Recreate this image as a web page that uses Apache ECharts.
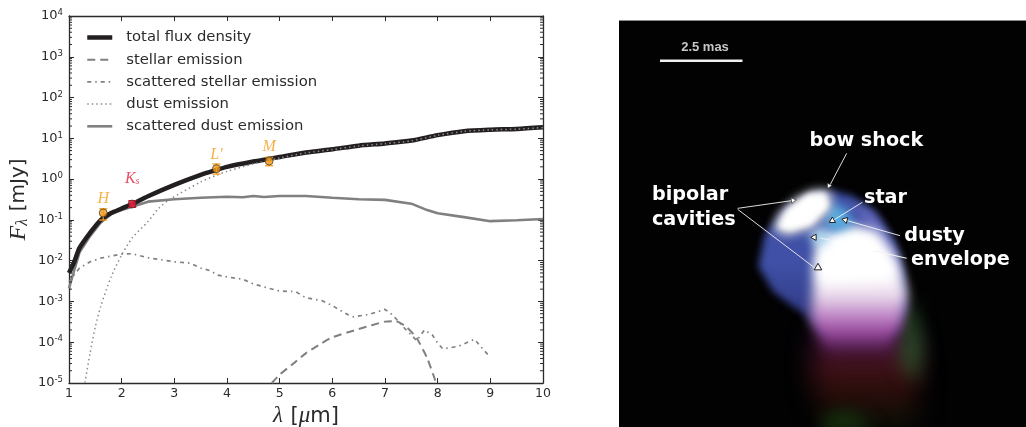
<!DOCTYPE html>
<html><head><meta charset="utf-8">
<style>html,body{margin:0;padding:0;background:#fff}#c{width:1026px;height:427px}</style>
<script src="https://cdn.jsdelivr.net/npm/echarts@6/dist/echarts.min.js"></script>
</head><body><div id="c"></div>
<script>
// ---- data ----
const totalFlux = [[1,0.005],[1.1,0.0094],[1.2,0.0205],[1.4,0.048],[1.6,0.099],[1.8,0.147],[2,0.19],[2.2,0.245],[2.5,0.38],[3,0.72],[3.5,1.27],[3.8,1.68],[4,2.0],[4.5,2.7],[4.8,3.15],[5,3.5],[5.5,4.5],[6,5.4],[6.5,6.6],[7,7.5],[7.5,8.8],[8,12],[8.5,15],[9,16.3],[9.5,17],[10,18.6]];
const stellar = [[4.85,1e-5],[5,1.6e-5],[5.3,3.3e-5],[5.5,5.4e-5],[5.8,9.5e-5],[6,1.32e-4],[6.5,2.1e-4],[7,3.2e-4],[7.2,3.3e-4],[7.4,2.4e-4],[7.6,1.27e-4],[7.8,4.1e-5],[7.95,1.2e-5],[8,8e-6]];
const scatteredStellar = [[1,0.003],[1.1,0.0045],[1.2,0.0066],[1.4,0.0094],[1.6,0.0115],[1.8,0.013],[2,0.0145],[2.2,0.0148],[2.5,0.0118],[3,0.0094],[3.3,0.0087],[3.5,0.0066],[3.7,0.0056],[3.8,0.0045],[4,0.004],[4.3,0.0035],[4.5,0.0027],[4.8,0.0021],[5,0.0018],[5.3,0.00174],[5.5,0.00123],[5.8,0.00105],[6,0.00079],[6.3,4.7e-4],[6.4,4.2e-4],[6.7,4.8e-4],[7,6.4e-4],[7.15,4.6e-4],[7.4,2e-4],[7.5,1.5e-4],[7.6,1.1e-4],[7.75,2e-4],[7.9,1.5e-4],[8,9.5e-5],[8.1,6.8e-5],[8.4,8e-5],[8.7,1.18e-4],[8.85,7e-5],[9,4.3e-5]];
const dust = [[1.28,8e-6],[1.3,1e-5],[1.4,5.4e-5],[1.5,2.4e-4],[1.6,7.4e-4],[1.8,0.004],[2,0.0138],[2.2,0.036],[2.5,0.091],[2.7,0.19],[2.9,0.31],[3.5,0.85],[3.8,1.25],[4,1.55],[4.5,2.35],[4.8,2.85],[5,3.3],[5.5,4.4],[6,5.3],[6.5,6.5],[7,7.4],[7.5,8.7],[8,11.8],[8.5,14.8],[9,16.1],[9.5,16.8],[10,18.4]];
const scatteredDust = [[1,0.0021],[1.1,0.0059],[1.2,0.016],[1.4,0.04],[1.6,0.085],[1.8,0.14],[2,0.175],[2.2,0.21],[2.5,0.28],[3,0.32],[3.5,0.35],[4,0.37],[4.3,0.36],[4.5,0.385],[4.7,0.365],[5,0.385],[5.5,0.385],[6,0.35],[6.5,0.32],[7,0.31],[7.5,0.25],[7.8,0.174],[8,0.145],[8.5,0.117],[9,0.093],[9.5,0.098],[10,0.105]];
const bandNames = ['H','Ks',"L'",'M'];
const bandWavelength = [1.65,2.2,3.8,4.8];
const bandFlux = [0.148,0.245,1.8,2.78];
const bandLow = [0.099,0.203,1.33,2.13];
const bandHigh = [0.188,0.295,2.35,3.42];
const minorTickFactors = [2,3,4,5,6,7,8,9];
const decades = [-5,-4,-3,-2,-1,0,1,2,3];

// ---- styling ----
const ink = '#2b2b2b', FONT = 'DejaVu Sans', SERIF = 'Liberation Serif';
const ORANGE = '#f59c1a', RED = '#e8213f';

// ---- the photo panel (not data): painted blurred colour patches ----
function paintPhoto() {
  const cv = document.createElement('canvas');
  const S = 2; cv.width = 407*S; cv.height = 407*S;
  const g = cv.getContext('2d');
  g.scale(S,S);
  g.fillStyle = '#020203'; g.fillRect(0,0,407,407);
  const P = (pts, fill, blur, alpha) => {
    g.save(); g.filter = 'blur('+(blur*S)+'px)'; g.globalAlpha = alpha||1; g.fillStyle = fill; g.beginPath();
    pts.forEach((p,i)=>{ const x=p[0]/3-9, y=p[1]/3-10; i?g.lineTo(x,y):g.moveTo(x,y); });
    g.closePath(); g.fill(); g.restore();
  };
  const Y = y => y/3-10;
  // plume
  let gr = g.createLinearGradient(0,Y(980),0,Y(1250));
  gr.addColorStop(0,'#4a1848'); gr.addColorStop(.35,'#3e1014'); gr.addColorStop(.7,'#220c08'); gr.addColorStop(1,'#0a1006');
  P([[620,960],[900,960],[930,1060],[920,1260],[640,1260],[600,1100]], gr, 12);
  P([[880,880],[915,890],[940,1010],[920,1120],[870,1060]], '#2c5428', 9, .85);
  P([[640,1220],[720,1200],[800,1260],[640,1270]], '#16300f', 8);
  // blue body
  gr = g.createLinearGradient(0,Y(760),0,Y(960));
  gr.addColorStop(0,'#3f50a6'); gr.addColorStop(.6,'#35408e'); gr.addColorStop(1,'#1a1c48');
  P([[660,542],[720,555],[790,600],[850,690],[880,790],[890,900],[850,980],[640,980],[590,920],[490,845],[445,770],[465,670],[530,590],[600,552]], gr, 4);
  P([[720,570],[800,620],[860,720],[885,850],[840,760],[780,660]], '#7474c4', 5, .8);
  // pink/white envelope
  gr = g.createLinearGradient(0,Y(780),0,Y(1020));
  gr.addColorStop(0,'#ffffff'); gr.addColorStop(.3,'#eee0ee'); gr.addColorStop(.55,'#c490cc'); gr.addColorStop(.78,'#9a489e'); gr.addColorStop(1,'#4a1c48');
  P([[615,770],[630,690],[720,650],[800,665],[860,750],[892,850],[875,950],[830,1020],[650,1020],[602,930]], gr, 6);
  P([[635,680],[720,655],[795,680],[845,760],[855,810],[630,820],[618,760]], '#ffffff', 6);
  // light-blue star region
  P([[660,580],[710,595],[730,650],[665,668],[645,640]], '#58ace0', 5);
  P([[600,665],[650,650],[655,705],[610,705]], '#b0dcf2', 5);
  // bow shock, painted in layers so that the dome keeps a soft rim and a solid core
  P([[490,660],[505,612],[560,562],[610,540],[650,538],[668,560],[660,605],[610,655],[530,678]], '#dcdcdc', 5, .95);
  P([[505,652],[530,600],[595,552],[645,550],[655,590],[600,645],[540,662]], '#ffffff', 3);
  return cv;
}

// ---- graphics helpers (photo annotations) ----
const zx = x => x/3+610, zy = y => y/3+10;
function annLine(x1,y1,x2,y2,w) {
  return {type:'line', z:20, shape:{x1:zx(x1),y1:zy(y1),x2:zx(x2),y2:zy(y2)}, style:{stroke:'#f4f4f4',lineWidth:w||0.9}};
}
function tri(x,y,size,angle,dark) {
  const a = angle*Math.PI/180, pts = [0,120,240].map(d=>{
    const t=a+d*Math.PI/180; return [zx(x)+size*Math.cos(t), zy(y)+size*Math.sin(t)];
  });
  return {type:'polygon', z:21, shape:{points:pts}, style:{fill:'#fff',stroke:dark?'#222':'#333',lineWidth:dark?1:0.7}};
}
function label(t,x,yc) {
  return {type:'text', z:22, x:x, y:yc, style:{text:t, fill:'#fff', font:'bold 19.2px "DejaVu Sans"', textVerticalAlign:'middle', textAlign:'left'}};
}
const graphics = [
  {type:'image', z:1, style:{image:paintPhoto(), x:619, y:20, width:407, height:407}},
  {type:'line', z:2, shape:{x1:619,y1:20.5,x2:1026,y2:20.5}, style:{stroke:'#8a8a8a',lineWidth:1}},
  {type:'line', z:20, shape:{x1:660,y1:60.8,x2:742.5,y2:60.8}, style:{stroke:'#f0f0f0',lineWidth:2.5}},
  {type:'text', z:22, x:705, y:47, style:{text:'2.5 mas', fill:'#c8c8c8', font:'bold 13px "Liberation Sans Narrow","Liberation Sans"', textAlign:'center', textVerticalAlign:'middle'}},
  annLine(710,430,660,525),
  tri(657,527,3,-65+180,false),
  annLine(383,595,545,572),
  tri(549,571,3.2,-8,false),
  annLine(383,598,620,778),
  tri(624,773,4.4,-90,true),
  annLine(757,577,668,632),
  tri(667,632,3.6,-90,true),
  annLine(870,677,712,632),
  tri(706,630,3.6,195,true),
  annLine(890,745,790,722,1.1),
  annLine(660,690,630,684),
  tri(613,682,3.6,180,true),
  label('bow shock',809.5,141),
  label('bipolar',652,195.5),
  label('cavities',652,220),
  label('star',864,198),
  label('dusty',904.3,236),
  label('envelope',911,260)
];

// ---- series helpers ----
const minorData = [];
decades.forEach(d => minorTickFactors.forEach(f => minorData.push(f*Math.pow(10,d))));
const majorFormatter = v => '{b|10}{s|' + Math.round(Math.log10(v)) + '}';
const axisLine = {show:true, onZero:false, lineStyle:{color:ink,width:1.3}};
const tick = {show:true, inside:true, length:5, lineStyle:{color:ink,width:1}};
const photData = bandNames.map((n,i)=>({
  name:n, value:[bandWavelength[i],bandFlux[i]],
  itemStyle:{color:n==='Ks'?RED:ORANGE, borderColor:'#222', borderWidth:0.8},
  label:{offset:[0, n==='Ks'?-11:0]}
}));
const bandLabel = {
  'H':'{o|H}', 'Ks':'{r|K}{rs|s}', "L'":"{o|L′}", 'M':'{o|M}'
};

const option = {
  animation:false,
  backgroundColor:'#fff',
  textStyle:{fontFamily:FONT},
  grid:{left:69,right:483,top:16,bottom:44,containLabel:false,outerBoundsMode:'none'},
  legend:{
    show:true, orient:'vertical', left:85, top:30, padding:0, itemWidth:25, itemHeight:14, itemGap:7.2,
    selectedMode:false, itemStyle:{color:'transparent',borderWidth:0}, lineStyle:{width:'inherit'},
    data:['total flux density','stellar emission','scattered stellar emission','dust emission','scattered dust emission'],
    textStyle:{fontFamily:FONT,fontSize:14.8,color:ink,padding:[0,0,0,9]}
  },
  xAxis:[
    {type:'value',min:1,max:10,interval:1,position:'bottom',
     name:'{l|λ}  {t|[}{m|μ}{t|m]}',nameLocation:'middle',nameGap:20,
     nameTextStyle:{rich:{l:{fontFamily:SERIF,fontStyle:'italic',fontSize:23,color:ink},t:{fontFamily:FONT,fontSize:21,color:ink},m:{fontFamily:SERIF,fontStyle:'italic',fontSize:23,color:ink}}},
     axisLine:axisLine,axisTick:tick,splitLine:{show:false},
     axisLabel:{color:ink,fontFamily:FONT,fontSize:12.5,margin:4}},
    {type:'value',min:1,max:10,interval:1,position:'top',axisLine:axisLine,axisTick:tick,splitLine:{show:false},axisLabel:{show:false}}
  ],
  yAxis:[
    {type:'log',logBase:10,min:1e-5,max:1e4,position:'left',
     name:'{f|F}{l|λ}  {t|[mJy]}',nameLocation:'middle',nameGap:38,nameRotate:90,
     nameTextStyle:{rich:{f:{fontFamily:SERIF,fontStyle:'italic',fontSize:24,color:ink},l:{fontFamily:SERIF,fontStyle:'italic',fontSize:16,color:ink,verticalAlign:'bottom'},t:{fontFamily:FONT,fontSize:20,color:ink}}},
     axisLine:axisLine,axisTick:tick,splitLine:{show:false},minorTick:{show:false},
     axisLabel:{color:ink,margin:6,formatter:majorFormatter,rich:{b:{fontFamily:FONT,fontSize:13,color:ink},s:{fontFamily:FONT,fontSize:8.5,color:ink,verticalAlign:'top',padding:[0,0,6,0]}}}},
    {type:'log',logBase:10,min:1e-5,max:1e4,position:'right',axisLine:axisLine,axisTick:tick,splitLine:{show:false},axisLabel:{show:false}}
  ],
  series:[
    {name:'total flux density',type:'line',data:totalFlux,symbol:'none',smooth:0.25,z:4,itemStyle:{color:'#231f20'},lineStyle:{color:'#231f20',width:4.5}},
    {name:'stellar emission',type:'line',data:stellar,symbol:'none',smooth:0.2,z:3,itemStyle:{color:'#808080'},lineStyle:{color:'#808080',width:2,type:[8,5]}},
    {name:'scattered stellar emission',type:'line',data:scatteredStellar,symbol:'none',z:3,itemStyle:{color:'#808080'},lineStyle:{color:'#808080',width:1.7,type:[4,4,1.5,4]}},
    {name:'dust emission',type:'line',data:dust,symbol:'none',smooth:0.25,z:5,itemStyle:{color:'#8c8c8c'},lineStyle:{color:'#8c8c8c',width:1.5,type:[1.5,3]}},
    {name:'scattered dust emission',type:'line',data:scatteredDust,symbol:'none',z:3,itemStyle:{color:'#808080'},lineStyle:{color:'#808080',width:2.6}},
    {name:'minor ticks',type:'custom',silent:true,z:6,coordinateSystem:'cartesian2d',
     data:minorData.map(v=>[1,v]),
     renderItem:(p,api)=>{
       const y=api.coord([1,api.value(1)])[1], l=api.coord([1,api.value(1)])[0], r=api.coord([10,api.value(1)])[0];
       const st={stroke:ink,lineWidth:1};
       return {type:'group',children:[
         {type:'line',shape:{x1:l,y1:y,x2:l+3,y2:y},style:st},
         {type:'line',shape:{x1:r,y1:y,x2:r-3,y2:y},style:st}
       ]};
     }},
    {name:'photometry errors',type:'custom',silent:true,z:7,coordinateSystem:'cartesian2d',
     data:bandNames.map((n,i)=>[bandWavelength[i],bandLow[i],bandHigh[i]]),
     renderItem:(p,api)=>{
       const x=api.value(0), a=api.coord([x,api.value(1)]), b=api.coord([x,api.value(2)]);
       const c=p.dataIndex===1?RED:ORANGE, st={stroke:c,lineWidth:1.3};
       return {type:'group',children:[
         {type:'line',shape:{x1:a[0],y1:a[1],x2:b[0],y2:b[1]},style:st},
         {type:'line',shape:{x1:a[0]-4,y1:a[1],x2:a[0]+4,y2:a[1]},style:st},
         {type:'line',shape:{x1:b[0]-4,y1:b[1],x2:b[0]+4,y2:b[1]},style:st}
       ]};
     }},
    {name:'photometry',type:'scatter',z:8,symbol:'circle',symbolSize:8,data:photData,
     label:{show:true,position:'top',distance:2,formatter:p=>bandLabel[p.name],
       rich:{
         o:{fontFamily:SERIF,fontStyle:'italic',fontSize:16,color:ORANGE},
         r:{fontFamily:SERIF,fontStyle:'italic',fontSize:16,color:RED},
         rs:{fontFamily:SERIF,fontStyle:'italic',fontSize:10,color:RED,verticalAlign:'bottom'}
       }}}
  ],
  graphic:{elements:graphics}
};
const chart = echarts.init(document.getElementById('c'),null,{renderer:'canvas',width:1026,height:427});
chart.setOption(option);
</script></body></html>
